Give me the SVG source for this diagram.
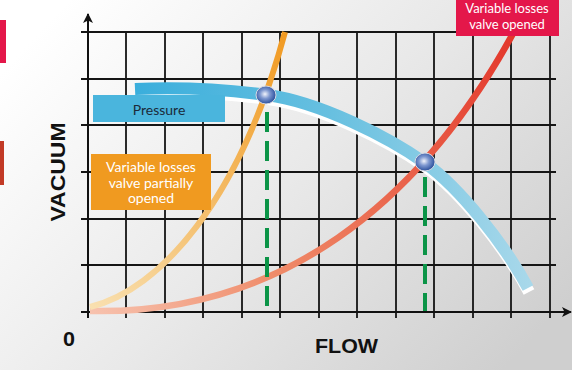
<svg xmlns="http://www.w3.org/2000/svg" width="572" height="370" viewBox="0 0 572 370">
<defs>
<linearGradient id="bg" x1="0" y1="0.2" x2="1" y2="0.8">
<stop offset="0" stop-color="#ffffff"/>
<stop offset="0.5" stop-color="#e9e9e9"/>
<stop offset="1" stop-color="#cfcfcf"/>
</linearGradient>
<linearGradient id="gBlue" gradientUnits="userSpaceOnUse" x1="135" y1="0" x2="530" y2="0">
<stop offset="0" stop-color="#3aaedc"/>
<stop offset="0.5" stop-color="#68c0e0"/>
<stop offset="1" stop-color="#a8d8ea"/>
</linearGradient>
<linearGradient id="gOrange" gradientUnits="userSpaceOnUse" x1="90" y1="307" x2="285" y2="32">
<stop offset="0" stop-color="#f9e0b0"/>
<stop offset="0.4" stop-color="#f4c070"/>
<stop offset="1" stop-color="#f19a22"/>
</linearGradient>
<linearGradient id="gRed" gradientUnits="userSpaceOnUse" x1="90" y1="311" x2="515" y2="30">
<stop offset="0" stop-color="#f7c2ae"/>
<stop offset="0.35" stop-color="#ef8a68"/>
<stop offset="1" stop-color="#e3362a"/>
</linearGradient>
<radialGradient id="gDot" cx="0.45" cy="0.45" r="0.55">
<stop offset="0" stop-color="#f2f4fb"/>
<stop offset="0.45" stop-color="#7e98d0"/>
<stop offset="1" stop-color="#2b4f9c"/>
</radialGradient>
<marker id="arr" viewBox="0 0 10 10" refX="9" refY="5" markerWidth="10" markerHeight="10" markerUnits="userSpaceOnUse" orient="auto">
<path d="M0,0 L10,5 L0,10 L2.5,5 Z" fill="#111"/>
</marker>
</defs>
<style>
.grid{stroke:#151515;stroke-width:1.8;fill:none}
.axis{stroke:#111;stroke-width:2;fill:none}
.dash{stroke:#0b9447;stroke-width:4;stroke-dasharray:20 9;fill:none}
.dot{fill:url(#gDot);stroke:#d6d9e2;stroke-width:1}
.lbl{font-family:Lato,"Open Sans",sans-serif;font-size:14px;fill:#ffffff;text-anchor:middle}
.ax{font-family:"Liberation Sans",Arial,sans-serif;font-weight:bold;fill:#111}
</style>
<rect x="0" y="0" width="572" height="370" fill="url(#bg)"/>
<rect x="0" y="20" width="6" height="43" fill="#e4174a"/>
<rect x="0" y="141" width="4" height="44" fill="#c23a26"/>

<g id="grid">
<path class="grid" d="M81 32H556M81 79H556M81 125H556M81 172H556M81 219H556M81 265H556"/>
<path class="grid" d="M126 32V318M165 32V318M203 32V318M242 32V318M280 32V318M319 32V318M357 32V318M396 32V318M434 32V318M473 32V318M511 32V318M550 32V318"/>
</g>
<g id="axes">
<path class="axis" d="M88 318V14" marker-end="url(#arr)"/>
<path class="axis" d="M81 312H571" marker-end="url(#arr)"/>
</g>

<g id="connectors">
<g id="pressure-curve">
<path d="M135 89 C180 87,230 90,267 95 C320 102,390 138,425 163 C460 188,505 245,528 288" transform="translate(1,4)" stroke="#ffffff" stroke-width="12" fill="none"/>
<path d="M135 89 C180 87,230 90,267 95 C320 102,390 138,425 163 C460 188,505 245,528 288" stroke="url(#gBlue)" stroke-width="12" fill="none"/>
</g>
<path id="red-curve" d="M90 311 C280 315,420 205,515 30" stroke="url(#gRed)" stroke-width="6.5" fill="none"/>
<path id="orange-curve" d="M90 307 C160 290,240 200,285 32" stroke="url(#gOrange)" stroke-width="6" fill="none"/>
<path class="dash" d="M267 112V311"/>
<path class="dash" d="M425 174V311" stroke-dashoffset="-3"/>
</g>

<g id="point1"><ellipse class="dot" cx="266" cy="95" rx="10" ry="9"/></g>
<g id="point2"><ellipse class="dot" cx="425" cy="162" rx="10" ry="9"/></g>

<g id="label-pressure">
<rect x="93" y="95" width="132" height="27" fill="#4ab5dd"/>
<text x="159" y="115" font-family="Lato,'Open Sans',sans-serif" font-size="14" fill="#1b2a3a" text-anchor="middle">Pressure</text>
</g>
<g id="label-partial">
<rect x="91" y="154" width="120" height="56" fill="#f09a20"/>
<text class="lbl" x="151" y="172">Variable losses</text>
<text class="lbl" x="151" y="187.5">valve partially</text>
<text class="lbl" x="151" y="203">opened</text>
</g>
<g id="label-opened">
<rect x="456" y="0" width="103" height="36" fill="#e4174a"/>
<text class="lbl" x="507" y="13" style="font-size:13px">Variable losses</text>
<text class="lbl" x="507" y="29" style="font-size:13px">valve opened</text>
</g>
<text class="ax" x="0" y="0" font-size="20" textLength="99" lengthAdjust="spacingAndGlyphs" text-anchor="middle" transform="translate(65 172) rotate(-90)">VACUUM</text>
<text class="ax" x="315" y="353" font-size="20" textLength="63" lengthAdjust="spacingAndGlyphs">FLOW</text>
<text class="ax" x="63" y="346" font-size="21" textLength="12" lengthAdjust="spacingAndGlyphs">0</text>
</svg>
